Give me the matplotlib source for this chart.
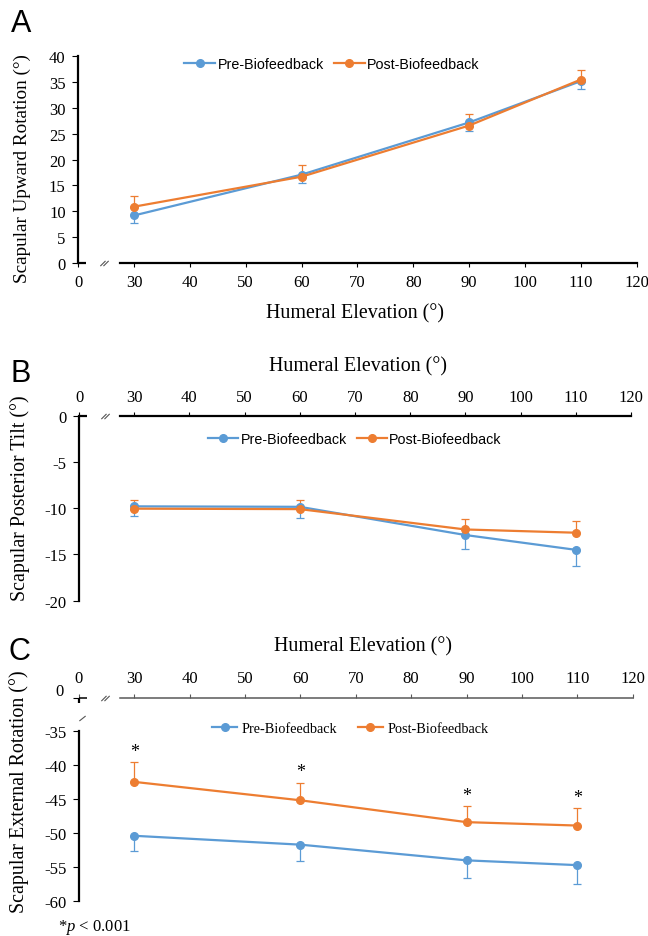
import matplotlib
matplotlib.use("Agg")
import matplotlib.pyplot as plt
from matplotlib.path import Path

plt.rcParams["font.family"] = ["Liberation Serif", "DejaVu Serif"]
plt.rcParams["mathtext.fontset"] = "custom"
plt.rcParams["mathtext.rm"] = "Liberation Serif"
plt.rcParams["mathtext.it"] = "Liberation Serif:italic"
plt.rcParams["axes.unicode_minus"] = False

# data
elev = [30, 60, 90, 110]
xtick_pos = [20, 30, 40, 50, 60, 70, 80, 90, 100, 110, 120]
xtick_lab = ["0", "30", "40", "50", "60", "70", "80", "90", "100", "110", "120"]

upward_pre = [9.2, 17.1, 27.2, 35.2]
upward_pre_err = [1.4, 1.6, 1.7, 1.6]
upward_post = [10.9, 16.7, 26.6, 35.5]
upward_post_err = [2.0, 2.2, 2.2, 1.9]

tilt_pre = [-9.8, -9.85, -12.9, -14.5]
tilt_pre_err = [1.05, 1.25, 1.5, 1.7]
tilt_post = [-10.05, -10.1, -12.3, -12.65]
tilt_post_err = [0.9, 0.95, 1.1, 1.25]

ext_pre = [-50.4, -51.7, -54.0, -54.7]
ext_pre_err = [2.3, 2.4, 2.6, 2.8]
ext_post = [-42.5, -45.2, -48.4, -48.9]
ext_post_err = [2.9, 2.6, 2.4, 2.6]

BLUE = "#5B9BD5"
ORANGE = "#ED7D31"
W, H = 648, 937

fig = plt.figure(figsize=(W / 100, H / 100), dpi=100)


def add_ax(left, right, top, bottom):
    # axes placed by pixel edges
    return fig.add_axes([left / W, 1 - bottom / H, (right - left) / W, (bottom - top) / H])


brk2 = Path([(-1.6, -1), (0.4, 1), (-0.4, -1), (1.6, 1)],
            [Path.MOVETO, Path.LINETO, Path.MOVETO, Path.LINETO])
brk1 = Path([(-1, -0.8), (1, 0.8)], [Path.MOVETO, Path.LINETO])


def draw(ax, pre, pre_err, post, post_err, leg_font, leg_pos, hl, htp, cs):
    z0 = [0] * len(elev)
    ax.errorbar(elev, pre, yerr=[pre_err, z0], fmt="none", ecolor=BLUE,
                elinewidth=0.9, capsize=3, capthick=0.9, zorder=2)
    ax.errorbar(elev, post, yerr=[z0, post_err], fmt="none", ecolor=ORANGE,
                elinewidth=0.9, capsize=3, capthick=0.9, zorder=2)
    ax.plot(elev, pre, color=BLUE, lw=1.6, marker="o", ms=5.5, label="Pre-Biofeedback", zorder=3)
    ax.plot(elev, post, color=ORANGE, lw=1.6, marker="o", ms=5.5, label="Post-Biofeedback", zorder=4)
    ax.legend(loc="center", bbox_to_anchor=leg_pos, ncol=2, frameon=False,
              prop={"family": leg_font, "size": 10.3}, handlelength=hl,
              handletextpad=htp, columnspacing=cs, borderaxespad=0, borderpad=0)


def x_axis(ax, y, side, color="black", lw=1.6):
    ax.set_xlim(20, 120)
    ax.set_xticks(xtick_pos)
    ax.set_xticklabels(xtick_lab)
    ax.spines[side].set_bounds(27.4, 120)
    ax.spines[side].set_color(color)
    ax.spines[side].set_linewidth(lw)
    ax.plot([20, 21.4], [y, y], color="black", lw=lw, clip_on=False, solid_capstyle="butt")
    ax.plot([24.7], [y], marker=brk2, ms=6, mew=0.8, color="#555555", ls="none", clip_on=False)
    ax.tick_params(axis="x", direction="out", length=3, width=0.8, pad=5, labelsize=12, color=color)
    ax.spines["left"].set_linewidth(1.6)
    ax.tick_params(axis="y", direction="out", length=4, width=0.8, pad=5, labelsize=12)
    ax.spines["right"].set_visible(False)


# ---- A: upward rotation
axA = add_ax(78.2, 636.7, 57.3, 264)
axA.set_ylim(0, 40)
axA.set_yticks(range(0, 41, 5))
axA.spines["top"].set_visible(False)
x_axis(axA, 0, "bottom")
draw(axA, upward_pre, upward_pre_err, upward_post, upward_post_err,
     "Liberation Sans", (0.4544, 0.9627), 2.17, 0.15, 0.7)

# ---- B: posterior tilt
axB = add_ax(79, 631, 416.7, 601.7)
axB.set_ylim(-20, 0)
axB.set_yticks(range(-20, 1, 5))
axB.xaxis.tick_top()
axB.spines["bottom"].set_visible(False)
x_axis(axB, 0, "top")
draw(axB, tilt_pre, tilt_pre_err, tilt_post, tilt_post_err,
     "Liberation Sans", (0.5, 0.874), 2.1, 0.15, 0.7)

# ---- C: external rotation (broken y axis)
ctop = -30.135
axC = add_ax(78.9, 632.7, 698.5, 902.3)
axC.set_ylim(-60, ctop)
axC.set_yticks([-60, -55, -50, -45, -40, -35, ctop])
axC.set_yticklabels(["-60", "-55", "-50", "-45", "-40", "-35", ""])
axC.xaxis.tick_top()
axC.spines["bottom"].set_visible(False)
x_axis(axC, ctop, "top", color="#595959", lw=1.1)
axC.spines["left"].set_bounds(-60, -35)
axC.plot([20, 20], [ctop, ctop - 0.8], color="black", lw=1.6, clip_on=False, solid_capstyle="butt")
axC.plot([20.56], [-33.2], marker=brk1, ms=4.5, mew=0.8, color="#555555", ls="none", clip_on=False)
draw(axC, ext_pre, ext_pre_err, ext_post, ext_post_err,
     "Liberation Serif", (0.4903, 0.8503), 1.75, 0.35, 1.4)
for x, v, e in zip(elev, ext_post, ext_post_err):
    axC.text(x, v + e + 0.9, "*", ha="center", va="baseline", fontsize=13)

# ---- text placed by pixel position
def ftext(x, y, s, **kw):
    fig.text(x / W, 1 - y / H, s, **kw)


ftext(21.5, 23.5, "A", fontsize=22, family="Liberation Sans", ha="center", va="center")
ftext(20.5, 374, "B", fontsize=22, family="Liberation Sans", ha="center", va="center")
ftext(19, 652, "C", fontsize=22, family="Liberation Sans", ha="center", va="center")

ftext(355, 314, "Humeral Elevation (°)", fontsize=14.4, ha="center", va="center")
ftext(358, 366.7, "Humeral Elevation (°)", fontsize=14.4, ha="center", va="center")
ftext(362.6, 646.7, "Humeral Elevation (°)", fontsize=14.4, ha="center", va="center")

ftext(22.7, 168.7, "Scapular Upward Rotation (°)", fontsize=13.8, rotation=90, ha="center", va="center")
ftext(20, 498.3, "Scapular Posterior Tilt (°)", fontsize=14.3, rotation=90, ha="center", va="center")
ftext(18.6, 792, "Scapular External Rotation (°)", fontsize=14.4, rotation=90, ha="center", va="center")

ftext(64, 692.5, "0", fontsize=12, ha="right", va="center")
ftext(58, 928, r"*$p$ < 0.001", fontsize=12, ha="left", va="center")

fig.savefig("out.png", dpi=100)
